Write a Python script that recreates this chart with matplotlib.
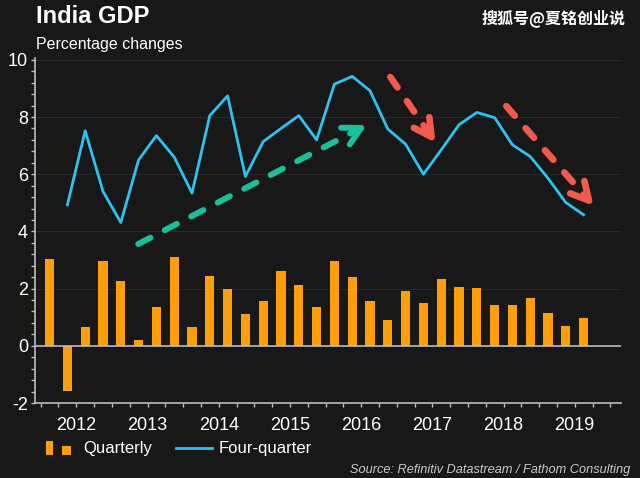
import matplotlib
matplotlib.use("Agg")
import matplotlib.pyplot as plt
import numpy as np
from matplotlib.ticker import AutoMinorLocator
from matplotlib.legend_handler import HandlerBase
from matplotlib.patches import Rectangle, Patch
from matplotlib.lines import Line2D

# data: quarterly growth and four-quarter growth, 2012Q1 .. 2019Q3
years = [2012, 2013, 2014, 2015, 2016, 2017, 2018, 2019]
quarters = [f"{y}Q{q}" for y in years for q in (1, 2, 3, 4)][:31]
quarterly = [3.04, -1.57, 0.67, 2.98, 2.25, 0.21, 1.37, 3.09,
             0.67, 2.44, 1.99, 1.10, 1.55, 2.60, 2.11, 1.34,
             2.95, 2.41, 1.57, 0.90, 1.90, 1.50, 2.32, 2.04,
             2.02, 1.41, 1.41, 1.67, 1.15, 0.71, 0.97]
four_quarter = [np.nan, 4.93, 7.52, 5.40, 4.31, 6.50, 7.35, 6.60,
                5.34, 8.05, 8.74, 5.92, 7.14, 7.60, 8.05, 7.20,
                9.15, 9.42, 8.92, 7.58, 7.05, 6.00, 6.85, 7.73,
                8.16, 7.98, 7.03, 6.62, 5.86, 5.01, 4.58]

# annotation arrows (start, tip) in data units
green_arrow = [(2013.37, 3.56), (2016.50, 7.62)]
red_arrows = [[(2016.91, 9.40), (2017.49, 7.30)],
              [(2018.54, 8.38), (2019.70, 5.08)]]

BG = "#181818"
ORANGE = "#FF9E0D"
CYAN = "#2CC3F0"
GREEN = "#1BC09A"
RED = "#F25A4B"
SPINE = "#bdbdbd"

plt.rcParams["font.family"] = ["Liberation Sans", "DejaVu Sans"]
plt.rcParams["axes.unicode_minus"] = False


def qpos(label):
    y, q = label.split("Q")
    return int(y) + (int(q) - 0.5) / 4


x = np.array([qpos(q) for q in quarters])

fig = plt.figure(figsize=(6.4, 4.78), dpi=100, facecolor=BG)
ax = fig.add_axes([35 / 640, 75 / 478, 586 / 640, 344.6 / 478], facecolor=BG)

ax.bar(x, quarterly, width=0.13, color=ORANGE, zorder=2)
ax.plot(x, four_quarter, color=CYAN, lw=2, zorder=3)
ax.axhline(0, color=SPINE, lw=1.2, zorder=4)

for yv in [2, 4, 6, 8, 10]:
    ax.axhline(yv, color="#2a2a2a", lw=0.8, zorder=0)

ax.set_xlim(2011.92, 2020.15)
ax.set_ylim(-2, 10.05)


def dashed_arrow(start, tip, color, lw, dashes, arm=20, half_angle=28):
    (x0, y0), (x1, y1) = start, tip
    ax.plot([x0, x1], [y0, y1], color=color, lw=lw, dashes=dashes,
            dash_capstyle="round", zorder=5)
    # chevron head built in pixel space, then mapped back to data
    p0 = ax.transData.transform((x0, y0))
    p1 = ax.transData.transform((x1, y1))
    d = (p0 - p1) / np.hypot(*(p0 - p1))
    pts = []
    for a in (np.radians(half_angle), -np.radians(half_angle)):
        r = np.array([d[0] * np.cos(a) - d[1] * np.sin(a),
                      d[0] * np.sin(a) + d[1] * np.cos(a)])
        pts.append(p1 + arm * r)
    head = np.array([pts[0], p1, pts[1]])
    head = ax.transData.inverted().transform(head)
    ax.plot(head[:, 0], head[:, 1], color=color, lw=lw,
            solid_capstyle="round", solid_joinstyle="round", zorder=5)


dashed_arrow(green_arrow[0], green_arrow[1], GREEN, 4.3, (2.3, 2.7))
for s, t in red_arrows:
    dashed_arrow(s, t, RED, 4.8, (1.9, 2.5))

ax.set_yticks([-2, 0, 2, 4, 6, 8, 10])
ax.yaxis.set_minor_locator(AutoMinorLocator(5))
ax.set_xticks([y + 0.5 for y in years])
ax.set_xticklabels([str(y) for y in years])
ax.set_xticks(np.arange(2012, 2020.01, 0.25), minor=True)

for s in ["top", "right"]:
    ax.spines[s].set_visible(False)
for s in ["left", "bottom"]:
    ax.spines[s].set_color(SPINE)
    ax.spines[s].set_linewidth(1.2)

ax.tick_params(axis="both", which="both", colors=SPINE, direction="out",
               length=3, width=1)
ax.tick_params(axis="both", which="major", labelcolor="white", labelsize=13)
ax.tick_params(axis="y", pad=2)
ax.tick_params(axis="x", pad=7)

fig.text(36 / 640, 1 - 23 / 478, "India GDP", color="white", fontsize=17,
         fontweight="bold", va="baseline")
fig.text(36 / 640, 1 - 48.5 / 478, "Percentage changes", color="white",
         fontsize=11.5, va="baseline")
fig.text(626 / 640, 1 - 23 / 478, "搜狐号@夏铭创业说", color="white",
         fontsize=11.5, ha="right", va="baseline", fontweight="bold",
         family=["Noto Sans CJK SC", "DejaVu Sans"])
fig.text(630 / 640, 1 - 473 / 478,
         "Source: Refinitiv Datastream / Fathom Consulting",
         color="#cccccc", fontsize=9.2, style="italic", ha="right",
         va="baseline")


class HandlerTwoBars(HandlerBase):
    def create_artists(self, legend, orig_handle, xdescent, ydescent,
                       width, height, fontsize, trans):
        c = orig_handle.get_facecolor()
        x0 = -xdescent
        y0 = -ydescent - 0.1 * height
        r1 = Rectangle((x0 + 0.14 * width, y0), 0.2 * width, 1.15 * height,
                       fc=c, ec="none", transform=trans)
        r2 = Rectangle((x0 + 0.58 * width, y0), 0.24 * width, 0.75 * height,
                       fc=c, ec="none", transform=trans)
        return [r1, r2]


bar_handle = Patch(facecolor=ORANGE)
line_handle = Line2D([], [], color=CYAN, lw=2)
fig.legend([bar_handle, line_handle], ["Quarterly", "Four-quarter"],
           handler_map={Patch: HandlerTwoBars()},
           loc="center left", bbox_to_anchor=(41 / 640, 1 - 449 / 478),
           bbox_transform=fig.transFigure, ncol=2, frameon=False,
           fontsize=12, labelcolor="white", handlelength=2.2,
           handletextpad=0.35, columnspacing=1.4, borderpad=0,
           borderaxespad=0)

fig.savefig("out.png", dpi=100, facecolor=BG)
